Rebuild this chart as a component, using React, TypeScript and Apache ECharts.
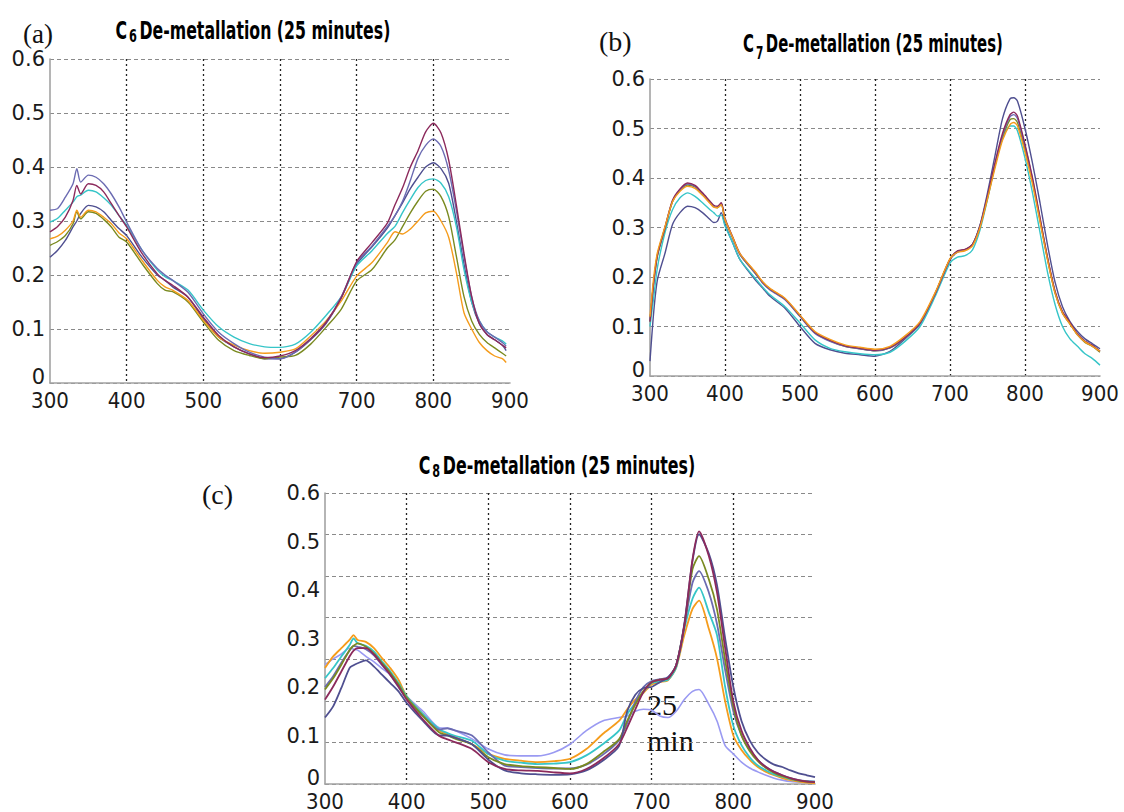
import React, { useEffect, useRef } from "react";
import * as echarts from "echarts";

// ---------- tick labels ----------
const xTicks = [300, 400, 500, 600, 700, 800, 900];
const yTickLabels = ["0", "0.1", "0.2", "0.3", "0.4", "0.5", "0.6"];

// ---------- panel (a): C6 ----------
const xA = [300, 310, 320, 330, 335, 340, 350, 360, 370, 380, 390, 400, 420, 440, 450, 460, 480, 500, 520, 540, 560, 580, 600, 620, 640, 660, 680, 700, 720, 740, 750, 760, 770, 780, 790, 800, 810, 820, 830, 840, 850, 860, 870, 880, 890, 895];
const aSlateD = [.233, .246, .264, .289, .30, .314, .329, .326, .317, .301, .286, .273, .233, .2, .19, .178, .159, .119, .085, .067, .054, .045, .045, .057, .08, .11, .158, .22, .252, .287, .31, .334, .36, .381, .4, .408, .397, .37, .30, .22, .15, .11, .09, .08, .07, .06];
const aOlive = [.255, .262, .273, .295, .317, .304, .317, .314, .303, .289, .27, .261, .221, .184, .172, .169, .15, .113, .079, .06, .051, .045, .048, .051, .072, .103, .137, .189, .21, .25, .265, .29, .315, .337, .355, .359, .345, .308, .235, .16, .115, .09, .075, .065, .055, .05];
const aOrange = [.267, .272, .283, .30, .32, .307, .32, .317, .307, .295, .278, .267, .227, .19, .178, .172, .153, .116, .085, .07, .06, .055, .057, .063, .087, .115, .152, .198, .223, .26, .28, .276, .285, .3, .315, .318, .3, .27, .205, .13, .1, .075, .06, .05, .045, .038];
const aCyan = [.298, .305, .32, .335, .345, .348, .357, .354, .343, .329, .31, .292, .246, .209, .197, .19, .172, .135, .104, .085, .073, .067, .066, .072, .094, .125, .16, .217, .245, .277, .29, .316, .34, .362, .375, .378, .37, .345, .29, .21, .15, .115, .095, .085, .078, .072];
const aSlateL = [.32, .323, .344, .369, .397, .372, .385, .381, .369, .35, .326, .298, .246, .212, .2, .19, .168, .128, .094, .073, .057, .048, .045, .057, .082, .112, .16, .223, .254, .29, .31, .337, .375, .416, .44, .452, .438, .394, .32, .235, .16, .115, .095, .085, .075, .068];
const aMaroon = [.28, .29, .307, .338, .366, .35, .369, .366, .354, .332, .31, .289, .24, .202, .19, .181, .159, .122, .088, .067, .054, .047, .05, .06, .082, .112, .158, .225, .26, .296, .33, .362, .40, .43, .465, .481, .463, .413, .33, .24, .16, .11, .09, .08, .07, .065];

// ---------- panel (b): C7 ----------
const xB = [300, 305, 310, 320, 330, 340, 350, 360, 370, 380, 385, 390, 395, 400, 410, 420, 440, 450, 460, 480, 500, 520, 540, 560, 580, 600, 620, 640, 660, 680, 700, 710, 720, 730, 740, 750, 760, 770, 780, 785, 790, 800, 810, 820, 830, 840, 850, 860, 870, 880, 890, 900];
const bSlateD = [.03, .13, .195, .248, .306, .33, .343, .34, .33, .316, .31, .313, .33, .306, .27, .235, .195, .178, .161, .137, .1, .066, .053, .046, .043, .04, .05, .075, .105, .165, .235, .25, .255, .266, .305, .37, .445, .52, .56, .562, .555, .5, .43, .35, .265, .19, .14, .11, .09, .075, .065, .055];
const bCyan = [.1, .16, .22, .29, .336, .36, .37, .363, .35, .336, .33, .323, .325, .303, .27, .235, .198, .18, .164, .14, .107, .073, .056, .049, .045, .043, .048, .07, .1, .16, .228, .24, .243, .255, .295, .357, .425, .48, .505, .505, .495, .44, .37, .29, .21, .145, .1, .075, .06, .045, .035, .022];
const bOlive = [.11, .19, .243, .298, .352, .375, .386, .382, .367, .35, .342, .34, .347, .315, .28, .245, .208, .189, .175, .155, .121, .087, .071, .06, .055, .051, .057, .077, .107, .166, .236, .252, .255, .265, .302, .36, .425, .482, .518, .52, .512, .458, .392, .314, .236, .168, .127, .105, .083, .068, .06, .048];
const bSlateL = [.11, .19, .245, .30, .353, .376, .388, .383, .368, .351, .343, .341, .348, .316, .28, .245, .208, .188, .174, .154, .12, .086, .07, .06, .055, .051, .057, .077, .106, .165, .235, .252, .255, .265, .302, .362, .428, .486, .524, .528, .52, .465, .398, .318, .238, .17, .128, .106, .084, .07, .061, .05];
const bMaroon = [.11, .19, .245, .30, .355, .378, .39, .385, .37, .353, .345, .343, .35, .318, .282, .247, .21, .19, .176, .156, .122, .088, .072, .061, .056, .052, .058, .078, .107, .166, .236, .253, .256, .266, .303, .364, .431, .49, .528, .533, .525, .468, .40, .32, .24, .172, .13, .108, .085, .07, .062, .05];
const bOrange = [.12, .2, .25, .302, .352, .373, .383, .379, .365, .349, .341, .34, .346, .316, .281, .247, .211, .191, .177, .157, .123, .09, .074, .063, .058, .054, .06, .081, .11, .168, .237, .25, .253, .263, .3, .358, .42, .476, .508, .512, .505, .452, .388, .312, .235, .168, .127, .105, .083, .069, .06, .05];

// ---------- panel (c): C8 ----------
const xC = [300, 310, 320, 330, 335, 340, 350, 360, 370, 380, 390, 400, 420, 440, 450, 460, 480, 500, 520, 540, 560, 580, 600, 620, 640, 660, 670, 680, 690, 700, 710, 720, 730, 740, 750, 758, 770, 780, 790, 800, 810, 820, 830, 840, 850, 860, 870, 880, 890, 900];
const cLavender = [.246, .258, .268, .28, .278, .276, .263, .252, .238, .225, .205, .181, .15, .116, .115, .11, .093, .072, .06, .058, .058, .065, .082, .11, .13, .137, .14, .15, .154, .152, .14, .137, .15, .174, .191, .195, .164, .13, .079, .062, .045, .033, .025, .018, .012, .008, .005, .004, .003, .002];
const cOrange = [.239, .263, .28, .297, .307, .297, .293, .28, .259, .239, .215, .181, .144, .11, .103, .096, .082, .062, .052, .048, .045, .047, .052, .072, .103, .13, .154, .174, .188, .205, .21, .214, .24, .307, .361, .378, .32, .259, .17, .1, .07, .05, .035, .025, .018, .012, .008, .005, .003, .002];
const cCyan = [.218, .239, .263, .286, .3, .29, .285, .273, .252, .232, .208, .181, .144, .113, .105, .099, .089, .062, .048, .044, .041, .042, .045, .059, .082, .11, .144, .167, .19, .208, .212, .215, .24, .32, .382, .405, .354, .307, .2, .12, .08, .055, .038, .028, .02, .015, .01, .007, .006, .005];
const cSlate = [.2, .222, .25, .275, .285, .283, .278, .265, .245, .225, .2, .176, .14, .112, .115, .11, .1, .065, .038, .035, .033, .032, .032, .04, .06, .09, .125, .17, .2, .212, .216, .22, .245, .325, .415, .439, .395, .33, .235, .15, .1, .07, .05, .035, .025, .018, .012, .008, .006, .005];
const cOlive = [.195, .218, .246, .276, .285, .29, .283, .269, .249, .229, .205, .178, .14, .106, .1, .093, .082, .055, .041, .037, .035, .033, .031, .041, .065, .092, .13, .164, .192, .21, .215, .218, .245, .327, .443, .47, .422, .36, .255, .16, .1, .068, .047, .033, .023, .016, .011, .007, .005, .004];
const cIndigo = [.137, .16, .198, .239, .245, .249, .255, .242, .225, .208, .191, .167, .13, .1, .1, .095, .082, .05, .028, .022, .02, .019, .02, .028, .048, .078, .15, .184, .198, .2, .21, .22, .245, .33, .46, .515, .475, .41, .3, .2, .13, .09, .065, .05, .04, .035, .028, .022, .018, .014];
const cMaroon = [.174, .201, .232, .263, .275, .28, .28, .267, .246, .225, .201, .174, .133, .099, .092, .086, .072, .045, .031, .028, .027, .024, .022, .031, .052, .082, .116, .154, .19, .21, .215, .218, .245, .327, .463, .521, .47, .395, .28, .17, .11, .075, .05, .035, .025, .018, .012, .008, .005, .004];

const COL = {
  slateD: "#4f4f90",
  slateL: "#6b6bb2",
  maroon: "#8c2a5c",
  olive: "#7a8a20",
  cyan: "#36c5c8",
  orange: "#f59c1c",
  lavender: "#9a9af2",
};

const NARROW = "'Liberation Sans Narrow', 'DejaVu Sans Condensed', 'Liberation Sans', sans-serif";
const TITLE_FAMILY = "'DejaVu Sans', sans-serif";
const SERIF = "'Liberation Serif', 'DejaVu Serif', serif";

function pairs(xs: number[], ys: number[]) {
  return xs.map((x, i) => [x, ys[i]]);
}

export default function App() {
  const ref = useRef<HTMLDivElement>(null);
  useEffect(() => {
    if (!ref.current) return;
    const chart = echarts.init(ref.current, undefined, { renderer: "svg" });

    const xAxisBase = (gi: number) => ({
      gridIndex: gi,
      type: "value",
      min: 300,
      max: 900,
      interval: 100,
      axisLine: { show: true, onZero: false, lineStyle: { color: "#a3a3a3", width: 1.6 } },
      axisTick: { show: false },
      axisLabel: {
        fontFamily: NARROW,
        fontSize: 22,
        color: "#1a1a1a",
        margin: 6,
        formatter: (v: number) => (xTicks.includes(v) ? String(v) : ""),
      },
      splitLine: {
        show: true,
        showMinLine: false,
        showMaxLine: false,
        lineStyle: { color: "#222", type: [2, 3], width: 1.3 },
      },
    });

    const yLabel = {
      fontFamily: "'DejaVu Sans', sans-serif",
      fontSize: 21,
      color: "#1a1a1a",
      margin: 5,
      formatter: (v: number) => {
        const i = Math.round(v * 10);
        if (i === 0) return "{z|" + yTickLabels[0] + "}";
        return yTickLabels[i] ?? "";
      },
      rich: {
        z: { fontFamily: "'DejaVu Sans', sans-serif", fontSize: 21, color: "#1a1a1a", padding: [0, 0, 12, 0] },
      },
    };
    const yAxisBase = (gi: number, grid: boolean) => ({
      gridIndex: gi,
      type: "value",
      min: 0,
      max: 0.6,
      interval: 0.1,
      axisLine: { show: true, lineStyle: { color: "#a3a3a3", width: 1.6 } },
      axisTick: { show: false },
      axisLabel: yLabel,
      splitLine: {
        show: grid,
        lineStyle: { color: "#8a8a8a", type: [4, 3], width: 1 },
      },
    });

    const line = (name: string, xs: number[], ys: number[], color: string, xi: number, yi: number, w = 1.4) => ({
      name,
      type: "line",
      xAxisIndex: xi,
      yAxisIndex: yi,
      data: pairs(xs, ys),
      showSymbol: false,
      symbol: "none",
      smooth: 0.25,
      lineStyle: { color, width: w },
      itemStyle: { color },
      silent: true,
    });

    const titleRich = (font: number, subPad: number) => ({
      m: { fontFamily: TITLE_FAMILY, fontWeight: "bold", fontSize: font, fill: "#000" },
      s: { fontFamily: TITLE_FAMILY, fontWeight: "bold", fontSize: font - 7, fill: "#000", padding: [subPad, 4, 0, 3] },
    });

    const option: any = {
      animation: false,
      backgroundColor: "#ffffff",
      grid: [
        { left: 50, top: 59, width: 460, height: 324 },
        { left: 650, top: 79, width: 450, height: 297 },
        { left: 325, top: 493, width: 490, height: 294 },
      ],
      xAxis: [xAxisBase(0), xAxisBase(1), xAxisBase(2)],
      yAxis: [
        yAxisBase(0, true),
        yAxisBase(1, true),
        yAxisBase(2, false),
        {
          gridIndex: 2,
          type: "value",
          min: 0,
          max: 7,
          interval: 1,
          axisLine: { show: false },
          axisTick: { show: false },
          axisLabel: { show: false },
          splitLine: { show: true, lineStyle: { color: "#8a8a8a", type: [4, 3], width: 1 } },
        },
      ],
      series: [
        line("a-slateD", xA, aSlateD, COL.slateD, 0, 0),
        line("a-olive", xA, aOlive, COL.olive, 0, 0),
        line("a-orange", xA, aOrange, COL.orange, 0, 0),
        line("a-cyan", xA, aCyan, COL.cyan, 0, 0),
        line("a-slateL", xA, aSlateL, COL.slateL, 0, 0),
        line("a-maroon", xA, aMaroon, COL.maroon, 0, 0),

        line("b-slateD", xB, bSlateD, COL.slateD, 1, 1),
        line("b-cyan", xB, bCyan, COL.cyan, 1, 1),
        line("b-olive", xB, bOlive, COL.olive, 1, 1),
        line("b-slateL", xB, bSlateL, COL.slateL, 1, 1),
        line("b-maroon", xB, bMaroon, COL.maroon, 1, 1),
        line("b-orange", xB, bOrange, COL.orange, 1, 1),

        line("c-lavender", xC, cLavender, COL.lavender, 2, 2, 1.6),
        line("c-orange", xC, cOrange, COL.orange, 2, 2, 1.8),
        line("c-cyan", xC, cCyan, COL.cyan, 2, 2, 1.8),
        line("c-slate", xC, cSlate, COL.slateL, 2, 2, 1.8),
        line("c-olive", xC, cOlive, COL.olive, 2, 2, 1.8),
        line("c-indigo", xC, cIndigo, COL.slateD, 2, 2, 1.8),
        line("c-maroon", xC, cMaroon, COL.maroon, 2, 2, 1.8),
      ],
      graphic: [
        { type: "text", x: 23, y: 34, style: { text: "(a)", font: `27px ${SERIF}`, fill: "#111", verticalAlign: "middle" } },
        { type: "text", x: 599, y: 41, style: { text: "(b)", font: `28px ${SERIF}`, fill: "#111", verticalAlign: "middle" } },
        { type: "text", x: 202, y: 494, style: { text: "(c)", font: `28px ${SERIF}`, fill: "#111", verticalAlign: "middle" } },
        {
          type: "text", x: 253, y: 31, scaleX: 0.63,
          style: { text: "{m|C}{s|6}{m|De-metallation (25 minutes)}", align: "center", verticalAlign: "middle", rich: titleRich(25, 11) },
        },
        {
          type: "text", x: 873, y: 44, scaleX: 0.62,
          style: { text: "{m|C}{s|7}{m|De-metallation (25 minutes)}", align: "center", verticalAlign: "middle", rich: titleRich(24, 17) },
        },
        {
          type: "text", x: 557, y: 466, scaleX: 0.66,
          style: { text: "{m|C}{s|8}{m|De-metallation (25 minutes)}", align: "center", verticalAlign: "middle", rich: titleRich(24, 10) },
        },
        { type: "text", x: 647, y: 704, style: { text: "25", font: `30px ${SERIF}`, fill: "#111", verticalAlign: "middle" } },
        { type: "text", x: 647, y: 740, style: { text: "min", font: `30px ${SERIF}`, fill: "#111", verticalAlign: "middle" } },
      ],
    };

    chart.setOption(option);
    return () => chart.dispose();
  }, []);

  return (
    <div
      ref={ref}
      style={{ position: "fixed", left: 0, top: 0, width: 1124, height: 812, background: "#fff" }}
    />
  );
}
